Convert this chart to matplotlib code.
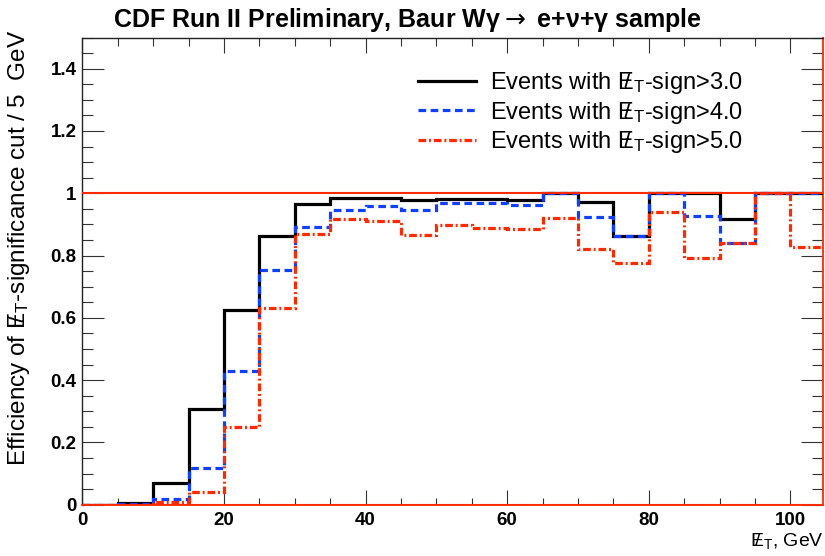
import matplotlib
matplotlib.use("Agg")
import matplotlib.pyplot as plt
from matplotlib.ticker import MultipleLocator, FuncFormatter
import numpy as np

# Bin edges of the missing-ET histogram (5 GeV bins)
bin_edges = [0, 5, 10, 15, 20, 25, 30, 35, 40, 45, 50, 55, 60, 65, 70,
             75, 80, 85, 90, 95, 100, 105]

# Efficiency per bin for the three significance cuts
eff_sig3 = [0.0, 0.007, 0.07, 0.307, 0.625, 0.862, 0.967, 0.984, 0.984, 0.978,
            0.983, 0.983, 0.978, 1.0, 0.971, 0.862, 1.0, 1.0, 0.918, 1.0, 1.0]
eff_sig4 = [0.0, 0.003, 0.017, 0.117, 0.429, 0.752, 0.892, 0.947, 0.960, 0.947,
            0.968, 0.968, 0.962, 1.0, 0.925, 0.862, 1.0, 0.928, 0.840, 1.0, 1.0]
eff_sig5 = [0.0, 0.0, 0.008, 0.042, 0.250, 0.630, 0.870, 0.917, 0.911, 0.866,
            0.898, 0.888, 0.885, 0.919, 0.822, 0.777, 0.940, 0.793, 0.840, 1.0, 0.828]

# slashed E_T written with mathtext
MET = r"$\mathrm{E}\!\!\!/\,{}_{\mathrm{T}}$"

cut_values = ["3.0", "4.0", "5.0"]
labels = ["Events with " + MET + "-sign>" + c for c in cut_values]

FONT = ["Liberation Sans", "DejaVu Sans"]
plt.rcParams["font.family"] = FONT
plt.rcParams["mathtext.fontset"] = "custom"
plt.rcParams["mathtext.rm"] = "Liberation Sans"
plt.rcParams["mathtext.it"] = "Liberation Sans:italic"
plt.rcParams["mathtext.bf"] = "Liberation Sans:bold"

BLACK = "#000000"
BLUE = "#1040ff"
RED = "#ff2a00"

fig = plt.figure(figsize=(8.25, 5.56), dpi=100)
ax = fig.add_axes([82.3 / 825, 1 - 504.7 / 556, (823 - 82.3) / 825, (504.7 - 37.5) / 556])

edges = np.array(bin_edges, dtype=float)

ax.axhline(1.0, color=RED, lw=1.5, zorder=5)
ax.axhline(0.0, color=RED, lw=1.5, zorder=5)

ax.stairs(eff_sig3, edges, color=BLACK, lw=2.3, baseline=None, label=labels[0], zorder=3)
ax.stairs(eff_sig4, edges, color=BLUE, lw=2.3, baseline=None, label=labels[1],
          linestyle=(0, (2.4, 1.4)), zorder=3.1)
ax.stairs(eff_sig5, edges, color=RED, lw=2.3, baseline=None, label=labels[2],
          linestyle=(0, (2.4, 0.9, 0.6, 0.9)), zorder=3.2)

ax.set_xlim(0, 104.6)
ax.set_ylim(0, 1.5)

ax.xaxis.set_major_locator(MultipleLocator(20))
ax.xaxis.set_minor_locator(MultipleLocator(5))
ax.yaxis.set_major_locator(MultipleLocator(0.2))
ax.yaxis.set_minor_locator(MultipleLocator(0.05))
ax.yaxis.set_major_formatter(FuncFormatter(lambda v, p: "%g" % round(v, 3)))
ax.xaxis.set_major_formatter(FuncFormatter(lambda v, p: "%g" % round(v, 3)))

ax.tick_params(axis="x", which="major", direction="in", length=10.8, width=0.8,
               top=True, bottom=True, pad=5, labelsize=13.5, color="#333333")
ax.tick_params(axis="x", which="minor", direction="in", length=5.4, width=0.8,
               top=True, bottom=True, color="#333333")
ax.tick_params(axis="y", which="major", direction="in", length=15.8, width=0.8,
               left=True, right=True, pad=4, labelsize=13.5, color="#333333")
ax.tick_params(axis="y", which="minor", direction="in", length=7.9, width=0.8,
               left=True, right=True, color="#333333")
for lab in ax.get_xticklabels() + ax.get_yticklabels():
    lab.set_fontweight("bold")

for side in ("left", "top"):
    ax.spines[side].set_color("#222222")
    ax.spines[side].set_linewidth(1.0)
ax.spines["right"].set_color(RED)
ax.spines["right"].set_linewidth(1.3)
ax.spines["bottom"].set_color(RED)
ax.spines["bottom"].set_linewidth(1.3)

fig.text(408 / 825, 1 - 20 / 556,
         "CDF Run II Preliminary, Baur W\u03b3$\\rightarrow$ e+\u03bd+\u03b3 sample",
         ha="center", va="center", fontsize=18, fontweight="bold",
         math_fontfamily="dejavusans")

fig.text(19 / 825, 1 - 30 / 556,
         "Efficiency of " + MET + "-significance cut / 5  GeV",
         rotation=90, ha="center", va="top", fontsize=17.5)

fig.text(824 / 825, 1 - 541 / 556, MET + ", GeV",
         ha="right", va="center", fontsize=14)

leg = ax.legend(loc="upper left", frameon=False, fontsize=17, handlelength=2.45,
                handletextpad=0.6, labelspacing=0.15, borderpad=0, borderaxespad=0)
leg.set_bbox_to_anchor((418 / 825, 1 - 70 / 556), transform=fig.transFigure)

fig.savefig("out.png", dpi=100)
